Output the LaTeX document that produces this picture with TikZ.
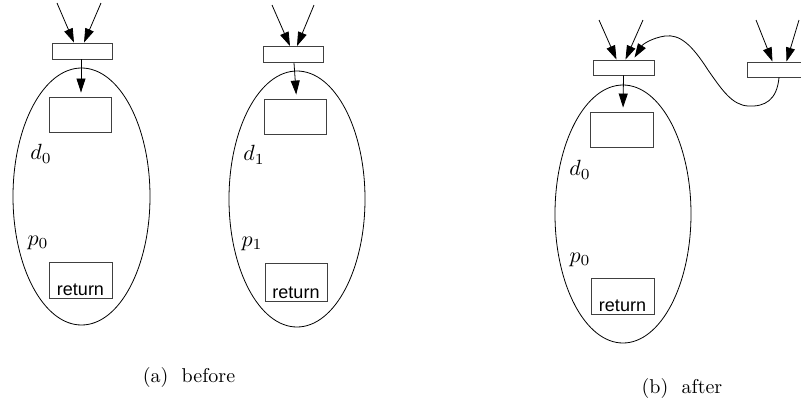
\documentclass[tikz,border=0pt]{standalone}
\usepackage{amsmath}
\usepackage{graphicx}
\usepackage{fontspec}
\newfontfamily\retfont{Liberation Sans}
\usetikzlibrary{arrows.meta,shapes.geometric}
\newcommand{\plab}[1]{\scalebox{2.2}{$#1$}}
\newcommand{\subcaplab}[1]{\scalebox{2.0}{#1}}

\tikzset{
	entry/.style={draw=black!75, line width=0.9pt, minimum width=60pt, minimum height=16pt, inner sep=0pt},
	block/.style={draw=black!75, line width=0.9pt, minimum width=62pt, minimum height=35pt, inner sep=0pt},
	retbox/.style={draw=black!75, line width=0.9pt, minimum width=63pt, minimum height=36pt, inner sep=0pt},
	rettext/.style={font=\retfont\fontsize{18}{21}\selectfont, inner sep=2.5pt, anchor=south},
	proc/.style={draw, ellipse, line width=0.8pt, inner sep=0pt},
	arr/.style={line width=0.8pt, -{Triangle[length=14pt,width=9pt]}},
	lbl/.style={inner sep=0pt},
	subcap/.style={inner sep=0pt}
}

\begin{document}
\begin{tikzpicture}[x=1pt,y=-1pt]
	\useasboundingbox (0,0) rectangle (801,405);
	% (a) before
	\node[proc, minimum width=137pt, minimum height=257pt] (ovA) at (81.5,196.5) {};
	\node[entry] (entA) at (82,51) {};
	\node[block] (boxA) at (80,114.5) {};
	\node[retbox] (retA) at (80.5,280) {};
	\node[rettext] (rtA) at (retA.south) {return};
	\node[lbl] (dA) at (41,154) {\plab{d_0}};
	\node[lbl] (pA) at (38,243) {\plab{p_0}};
	\coordinate (sA1) at (57,3);
	\coordinate (sA2) at (101,3);
	\draw[arr] (sA1) -- ([xshift=-8pt]entA.north);
	\draw[arr] (sA2) -- ([xshift=2pt]entA.north);
	\draw[arr, shorten >=4pt] ([xshift=-1pt]entA.south) -- ([xshift=1pt]boxA.north);

	\node[proc, minimum width=136pt, minimum height=256pt] (ovB) at (297,199) {};
	\node[entry] (entB) at (293,54.5) {};
	\node[block] (boxB) at (295.5,116.5) {};
	\node[retbox, minimum width=62pt, minimum height=38pt] (retB) at (296,282) {};
	\node[rettext] (rtB) at (retB.south) {return};
	\node[lbl] (dB) at (254,155) {\plab{d_1}};
	\node[lbl] (pB) at (252,244) {\plab{p_1}};
	\coordinate (sB1) at (272,5);
	\coordinate (sB2) at (314,5);
	\draw[arr] (sB1) -- ([xshift=-3pt]entB.north);
	\draw[arr] (sB2) -- ([xshift=4pt]entB.north);
	\draw[arr, shorten >=4pt] ([xshift=1pt]entB.south) -- ([xshift=1pt]boxB.north);

	\node[subcap] (capA) at (189,377) {\subcaplab{(a)\ \ before}};

	% (b) after
	\node[proc, minimum width=136pt, minimum height=258pt] (ovC) at (623,214) {};
	\node[entry, minimum width=61pt, minimum height=15pt] (entC) at (623.5,67.5) {};
	\node[block, minimum width=63pt] (boxC) at (621.5,129.5) {};
	\node[retbox] (retC) at (622.5,296) {};
	\node[rettext] (rtC) at (retC.south) {return};
	\node[lbl] (dC) at (580,170) {\plab{d_0}};
	\node[lbl] (pC) at (580,260) {\plab{p_0}};
	\coordinate (sC1) at (599,20);
	\coordinate (sC2) at (643,20);
	\draw[arr] (sC1) -- ([xshift=-7pt]entC.north);
	\draw[arr] (sC2) -- ([xshift=2pt]entC.north);
	\draw[arr, shorten >=4pt] (entC.south) -- ([xshift=1.5pt]boxC.north);

	\node[entry, minimum width=61pt, minimum height=15pt] (entD) at (777.5,69.5) {};
	\coordinate (sD1) at (756,20);
	\coordinate (sD2) at (799,20);
	\draw[arr] (sD1) -- ([xshift=-5pt]entD.north);
	\draw[arr] (sD2) -- ([xshift=9pt]entD.north);
	\draw[arr] ([xshift=1.5pt]entD.south) .. controls (777,100) and (765,107) .. (748,106)
		.. controls (732,105) and (722,90) .. (708,70)
		.. controls (692,45) and (680,34) .. (665,36)
		.. controls (652,38) and (643,44) .. ([xshift=11pt,yshift=2pt]entC.north);

	\node[subcap] (capB) at (682,388) {\subcaplab{(b)\ \ after}};
\end{tikzpicture}
\end{document}
